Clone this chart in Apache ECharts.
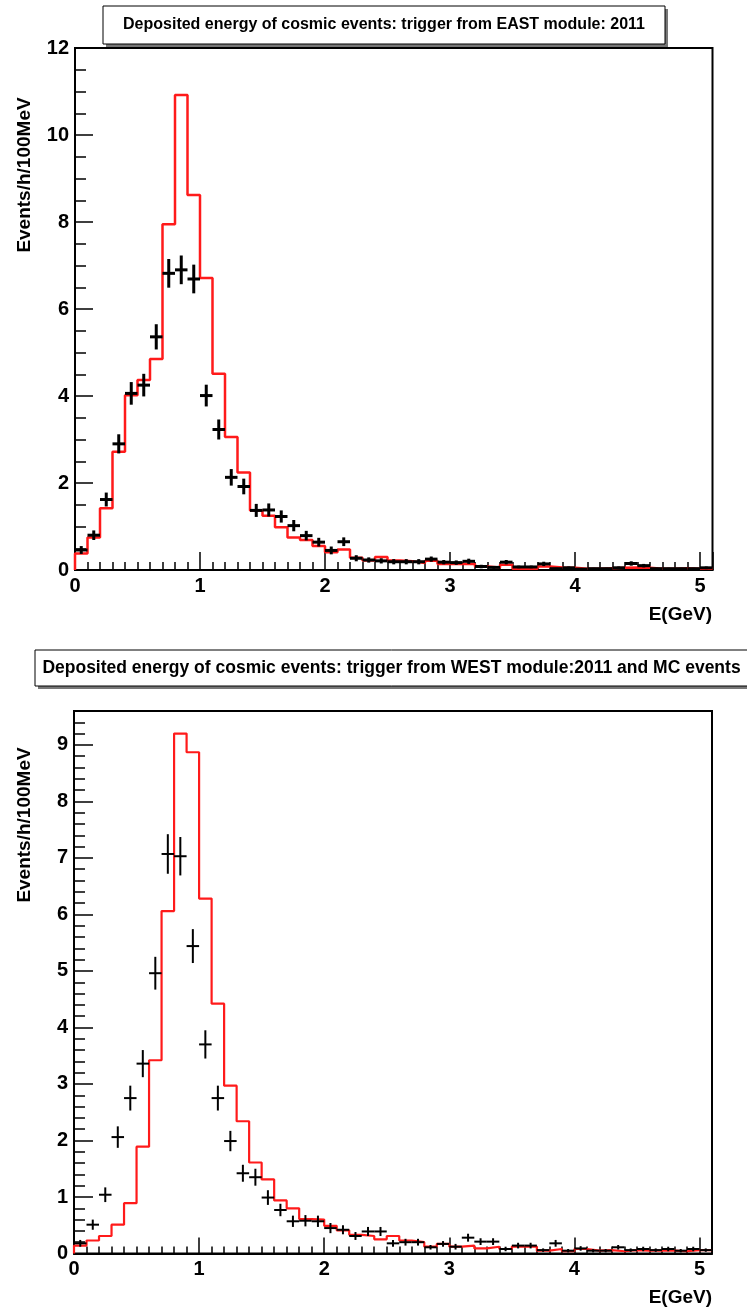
<!DOCTYPE html>
<html><head><meta charset="utf-8">
<script src="https://cdn.jsdelivr.net/npm/echarts@6/dist/echarts.min.js"></script>
<style>html,body{margin:0;padding:0;background:#fff}#c{width:747px;height:1310px}</style>
</head><body><div id="c"></div>
<script>
// ---- data ----
const binCenters = [0.05,0.15,0.25,0.35,0.45,0.55,0.65,0.75,0.85,0.95,
  1.05,1.15,1.25,1.35,1.45,1.55,1.65,1.75,1.85,1.95,
  2.05,2.15,2.25,2.35,2.45,2.55,2.65,2.75,2.85,2.95,
  3.05,3.15,3.25,3.35,3.45,3.55,3.65,3.75,3.85,3.95,
  4.05,4.15,4.25,4.35,4.45,4.55,4.65,4.75,4.85,4.95,5.05];
const binWidth = 0.1;

const eastData = [0.46,0.80,1.62,2.90,4.06,4.25,5.36,6.82,6.90,6.69,
  4.01,3.23,2.13,1.92,1.37,1.38,1.23,1.02,0.79,0.64,
  0.45,0.65,0.27,0.23,0.21,0.19,0.19,0.19,0.25,0.18,
  0.17,0.20,0.08,0.06,0.18,0.07,0.07,0.14,0.03,0.05,
  0.02,0.03,0.03,0.05,0.15,0.10,0.03,0.03,0.03,0.03,0.05];
const eastErr = [0.09,0.11,0.16,0.22,0.26,0.26,0.29,0.33,0.33,0.33,
  0.25,0.23,0.19,0.18,0.15,0.15,0.14,0.13,0.11,0.10,
  0.09,0.10,0.07,0.06,0.06,0.06,0.06,0.06,0.06,0.05,
  0.05,0.06,0.04,0.03,0.05,0.03,0.03,0.05,0.02,0.03,
  0.02,0.02,0.02,0.03,0.05,0.04,0.02,0.02,0.02,0.02,0.03];
const eastMC = [0.38,0.75,1.42,2.72,4.02,4.37,4.85,7.95,10.92,8.62,
  6.71,4.51,3.06,2.24,1.37,1.25,0.98,0.75,0.69,0.55,
  0.41,0.47,0.28,0.22,0.30,0.22,0.20,0.16,0.21,0.14,
  0.14,0.14,0.08,0.06,0.12,0.03,0.03,0.08,0.06,0.05,
  0.03,0.03,0.04,0.05,0.06,0.05,0.03,0.03,0.04,0.03,0.03];

const westData = [0.18,0.51,1.04,2.06,2.75,3.36,4.96,7.07,7.03,5.44,
  3.70,2.75,1.99,1.42,1.35,0.99,0.77,0.57,0.58,0.57,
  0.45,0.42,0.31,0.39,0.39,0.18,0.20,0.20,0.11,0.17,
  0.12,0.28,0.21,0.21,0.08,0.14,0.14,0.06,0.18,0.05,
  0.09,0.05,0.05,0.11,0.06,0.08,0.06,0.08,0.05,0.08,0.06];
const westErr = [0.06,0.09,0.13,0.19,0.22,0.24,0.29,0.35,0.34,0.30,
  0.25,0.22,0.18,0.15,0.15,0.13,0.11,0.10,0.10,0.10,
  0.09,0.08,0.07,0.08,0.08,0.06,0.06,0.06,0.04,0.05,
  0.05,0.07,0.06,0.06,0.04,0.05,0.05,0.03,0.06,0.03,
  0.04,0.03,0.03,0.04,0.03,0.04,0.03,0.04,0.03,0.04,0.03];
const westMC = [0.14,0.23,0.31,0.51,0.89,1.89,3.42,6.06,9.20,8.87,
  6.28,4.42,2.97,2.34,1.61,1.31,0.94,0.80,0.61,0.60,
  0.49,0.41,0.33,0.31,0.25,0.31,0.23,0.20,0.12,0.17,
  0.12,0.14,0.09,0.12,0.08,0.12,0.12,0.05,0.08,0.04,
  0.08,0.05,0.06,0.04,0.06,0.05,0.05,0.05,0.04,0.06,0.06];

const eastTitle = 'Deposited energy of cosmic events: trigger from EAST module: 2011';
const westTitle = 'Deposited energy of cosmic events: trigger from WEST module:2011 and MC events';
const yTitle = 'Events/h/100MeV';
const xTitle = 'E(GeV)';

// ---- build ----
const FF = '"Liberation Sans", Arial, Helvetica, sans-serif';

function histPoints(vals) {
  const pts = [[binCenters[0] - binWidth / 2, 0]];
  vals.forEach((v, i) => pts.push([binCenters[i] - binWidth / 2, v]));
  pts.push([binCenters[binCenters.length - 1] + binWidth / 2, vals[vals.length - 1]]);
  return pts;
}
function crossPoints(vals, errs) {
  return vals.map((v, i) => [binCenters[i], v, errs[i]]);
}
function crossRender(lw) {
  return function (params, api) {
    const x = api.value(0), y = api.value(1), e = api.value(2);
    const pL = api.coord([x - binWidth / 2, y]), pR = api.coord([x + binWidth / 2, y]);
    const pT = api.coord([x, y + e]), pB = api.coord([x, Math.max(0, y - e)]);
    return { type: 'group', children: [
      { type: 'line', shape: { x1: pL[0], y1: pL[1], x2: pR[0], y2: pR[1] }, style: { stroke: '#000', lineWidth: lw } },
      { type: 'line', shape: { x1: pT[0], y1: pT[1], x2: pB[0], y2: pB[1] }, style: { stroke: '#000', lineWidth: lw } }
    ]};
  };
}
function xAxisCfg(gi, majorLen, minorLen) {
  return {
    gridIndex: gi, type: 'value', min: 0, max: 5.1, interval: 1,
    axisLine: { show: true, onZero: false, lineStyle: { color: '#000', width: 2 } },
    axisTick: { show: true, inside: true, length: majorLen, lineStyle: { color: '#000', width: 1.5 } },
    minorTick: { show: true, splitNumber: 10, length: minorLen, lineStyle: { color: '#000', width: 1.5 } },
    axisLabel: { show: true, showMaxLabel: false, margin: 6, fontSize: 20, fontWeight: 'bold', color: '#000', fontFamily: FF },
    splitLine: { show: false }, minorSplitLine: { show: false }
  };
}
function yAxisCfg(gi, max, interval, minorSplit, majorLen, minorLen) {
  return {
    gridIndex: gi, type: 'value', min: 0, max: max, interval: interval,
    axisLine: { show: true, onZero: false, lineStyle: { color: '#000', width: 2 } },
    axisTick: { show: true, inside: true, length: majorLen, lineStyle: { color: '#000', width: 1.5 } },
    minorTick: { show: true, splitNumber: minorSplit, length: minorLen, lineStyle: { color: '#000', width: 1.5 } },
    axisLabel: { show: true, showMaxLabel: max % interval === 0, margin: 6, fontSize: 20, fontWeight: 'bold', color: '#000', fontFamily: FF },
    splitLine: { show: false }, minorSplitLine: { show: false }
  };
}
function titleBox(x, y, w, h, text, fs) {
  return { type: 'group', children: [
    { type: 'rect', shape: { x: x + 3, y: y + 3, width: w, height: h }, style: { fill: '#777' } },
    { type: 'rect', shape: { x: x, y: y, width: w, height: h }, style: { fill: '#fff', stroke: '#000', lineWidth: 1 } },
    { type: 'text', x: x + w / 2, y: y + h / 2, style: { text: text, font: 'bold ' + fs + 'px ' + FF, fill: '#000', align: 'center', verticalAlign: 'middle' } }
  ]};
}

const option = {
  animation: false,
  backgroundColor: '#fff',
  grid: [
    { left: 75, top: 48, width: 637.5, height: 522, show: true, borderColor: '#000', borderWidth: 2, backgroundColor: 'transparent' },
    { left: 74, top: 711, width: 638, height: 542.5, show: true, borderColor: '#000', borderWidth: 2, backgroundColor: 'transparent' }
  ],
  xAxis: [ xAxisCfg(0, 18, 8), xAxisCfg(1, 16, 7) ],
  yAxis: [ yAxisCfg(0, 12, 2, 4, 18, 11), yAxisCfg(1, 9.6, 1, 5, 19, 11) ],
  series: [
    { type: 'line', xAxisIndex: 0, yAxisIndex: 0, data: histPoints(eastMC), step: 'end', symbol: 'none',
      lineStyle: { color: '#ff1a1a', width: 2.5 }, z: 2 },
    { type: 'custom', xAxisIndex: 0, yAxisIndex: 0, data: crossPoints(eastData, eastErr), renderItem: crossRender(3), z: 3 },
    { type: 'line', xAxisIndex: 1, yAxisIndex: 1, data: histPoints(westMC), step: 'end', symbol: 'none',
      lineStyle: { color: '#ff1a1a', width: 2.2 }, z: 2 },
    { type: 'custom', xAxisIndex: 1, yAxisIndex: 1, data: crossPoints(westData, westErr), renderItem: crossRender(2), z: 3 }
  ],
  graphic: [
    titleBox(103, 6, 562, 38, eastTitle, 16),
    titleBox(35, 650, 713, 36, westTitle, 17.5),
    { type: 'text', x: 25, y: 175, rotation: Math.PI / 2, style: { text: yTitle, font: 'bold 19px ' + FF, fill: '#000', align: 'center', verticalAlign: 'middle' } },
    { type: 'text', x: 25, y: 825, rotation: Math.PI / 2, style: { text: yTitle, font: 'bold 19px ' + FF, fill: '#000', align: 'center', verticalAlign: 'middle' } },
    { type: 'text', x: 712, y: 615, style: { text: xTitle, font: 'bold 19px ' + FF, fill: '#000', align: 'right', verticalAlign: 'middle' } },
    { type: 'text', x: 712, y: 1298, style: { text: xTitle, font: 'bold 19px ' + FF, fill: '#000', align: 'right', verticalAlign: 'middle' } }
  ]
};
const chart = echarts.init(document.getElementById('c'), null, { renderer: 'canvas' });
chart.setOption(option);
</script></body></html>
